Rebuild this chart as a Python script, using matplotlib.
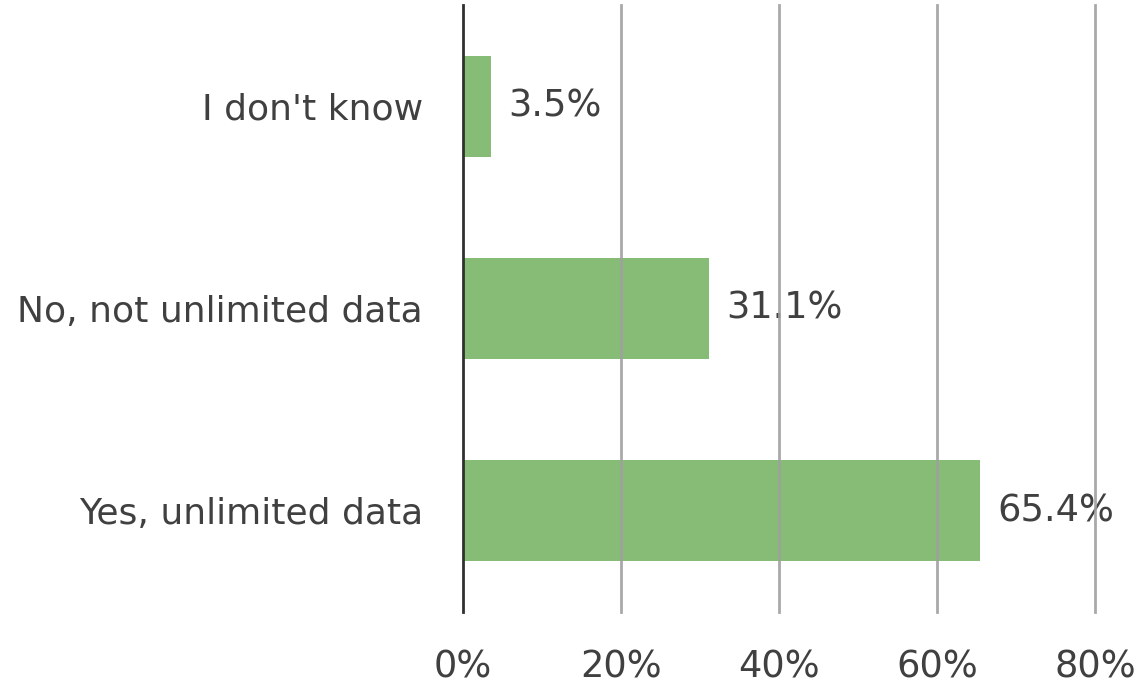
import matplotlib
matplotlib.use("Agg")
import matplotlib.pyplot as plt

categories = ["Yes, unlimited data", "No, not unlimited data", "I don't know"]
values = [65.4, 31.1, 3.5]
x_ticks = [0, 20, 40, 60, 80]
x_tick_labels = ["0%", "20%", "40%", "60%", "80%"]

plt.rcParams["font.family"] = ["DejaVu Sans"]
text_color = "#404040"
bar_color = "#86bc76"

fig = plt.figure(figsize=(11.42, 6.86), dpi=100)
ax = fig.add_axes([0.4054, 0.1079, 0.5534, 0.8848])

ypos = list(range(len(categories)))
ax.barh(ypos, values, height=0.5, color=bar_color, zorder=2)

for y, v in zip(ypos, values):
    ax.annotate(f"{v:.1f}%", xy=(v, y), xytext=(13, 0), textcoords="offset points",
                ha="left", va="center", fontsize=26.5, color=text_color, zorder=3)

ax.set_xlim(0, 80)
ax.set_ylim(-0.5, 2.5)

# vertical gridlines drawn over bars and labels
for t in x_ticks[1:]:
    ax.axvline(t, color="#a0a0a0", lw=2, alpha=0.9, zorder=5, clip_on=False)

ax.set_xticks(x_ticks)
ax.set_xticklabels(x_tick_labels, fontsize=26.5)
ax.set_yticks(ypos)
ax.set_yticklabels(categories, fontsize=26)
ax.tick_params(axis="both", length=0, colors=text_color)
ax.tick_params(axis="x", pad=26)
ax.tick_params(axis="y", pad=29)

for s in ["top", "right", "bottom"]:
    ax.spines[s].set_visible(False)
ax.spines["left"].set_color("#303030")
ax.spines["left"].set_linewidth(2)
ax.spines["left"].set_zorder(6)

fig.savefig("out.png", dpi=100)
